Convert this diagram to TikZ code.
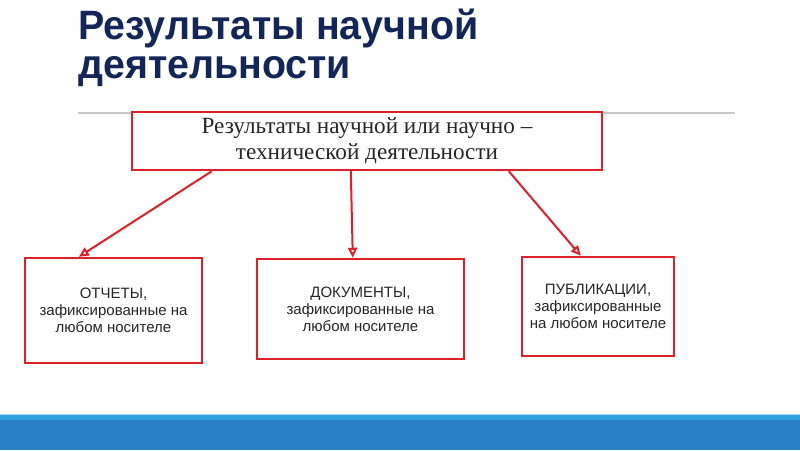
\documentclass[tikz,border=0pt]{standalone}
\usepackage{fontspec}
\setmainfont{Liberation Serif}
\setsansfont{Liberation Sans}
\newfontfamily\ttlfont[FakeStretch=0.96]{Liberation Sans}
\usetikzlibrary{arrows.meta}
\definecolor{sl_red}{RGB}{222, 32, 40}
\definecolor{sl_navy}{RGB}{20, 38, 88}
\definecolor{sl_grey}{RGB}{200, 200, 200}
\definecolor{sl_blue}{RGB}{38, 130, 197}
\definecolor{sl_cyan}{RGB}{48, 160, 222}
\definecolor{sl_pale}{RGB}{160, 218, 240}
\tikzstyle{rb}=[rectangle,fill=white,draw=sl_red,line width=2.4pt,
  inner sep=2pt,align=center,text=black!85]
\tikzstyle{sb}=[style=rb,font=\sffamily\fontsize{15}{17}\selectfont]
\tikzstyle{ra}=[draw=sl_red,line width=2pt,
  -{Triangle[open,length=10pt,width=9pt]}]

\begin{document}
\begin{tikzpicture}[x=1pt,y=-1pt]
    \fill[white] (0,0) rectangle (800,450);
    % bottom band
    \fill[sl_blue] (0,415) rectangle (800,450);
    \fill[sl_cyan] (0,415) rectangle (800,420);
    \fill[sl_pale] (0,413.5) rectangle (800,415);
    % title
    \node [anchor=north west,inner sep=0pt,align=left,text=sl_navy,
      font=\ttlfont\bfseries\fontsize{41}{39}\selectfont] (title) at (78,9)
      {Результаты научной\\деятельности};
    \coordinate (ls) at (78,113);
    \coordinate (le) at (735,113);
    \draw [sl_grey,line width=1.5pt] (ls) -- (le);
    \node [style=rb,minimum width=470,minimum height=58,
      font=\fontsize{23.2}{26}\selectfont] (top) at (367,141)
      {Результаты научной или научно –\\технической деятельности};
    \node [style=sb,minimum width=177,minimum height=105] (1b) at (113.5,310.5)
      {ОТЧЕТЫ,\\зафиксированные на\\любом носителе};
    \node [style=sb,minimum width=207,minimum height=100] (2b) at (360.5,309)
      {ДОКУМЕНТЫ,\\зафиксированные на\\любом носителе};
    \node [style=sb,minimum width=152,minimum height=99] (3b) at (598,306.5)
      {ПУБЛИКАЦИИ,\\зафиксированные\\на любом носителе};
    \coordinate (1s) at ([xshift=81]top.south west);
    \coordinate (2s) at ([xshift=220]top.south west);
    \coordinate (3s) at ([xshift=378]top.south west);
    \coordinate (1e) at ([xshift=55]1b.north west);
    \coordinate (2e) at ([xshift=97]2b.north west);
    \coordinate (3e) at ([xshift=60]3b.north west);
    \draw [style=ra] (1s) to (1e);
    \draw [style=ra] (2s) to (2e);
    \draw [style=ra] (3s) to (3e);
  \end{tikzpicture}
\end{document}
